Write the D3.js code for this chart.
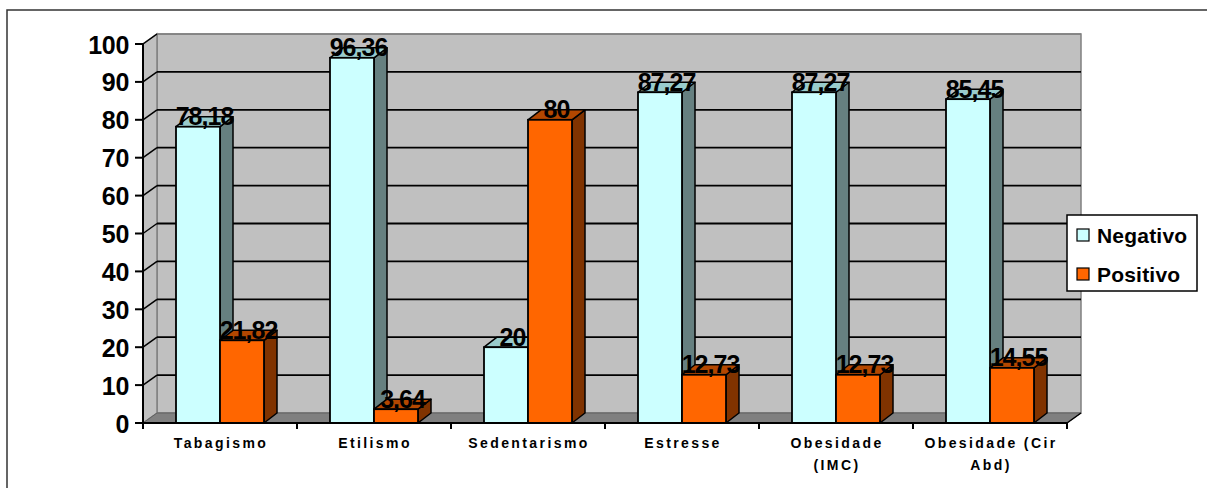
<!DOCTYPE html>
<html>
<head>
<meta charset="utf-8">
<script src="https://cdn.jsdelivr.net/npm/d3@7/dist/d3.min.js"></script>
<style>
  html, body { margin: 0; padding: 0; background: #fff; }
  svg { display: block; }
  text { font-family: Arial, "Liberation Sans", sans-serif; font-weight: bold; fill: #000; }
</style>
</head>
<body>
<svg id="chart" width="1207" height="488"></svg>
<script>
// Categories and their two-line axis labels
const categories = ["Tabagismo", "Etilismo", "Sedentarismo", "Estresse", "Obesidade (IMC)", "Obesidade (Cir Abd)"];
const categoryLines = [["Tabagismo"], ["Etilismo"], ["Sedentarismo"], ["Estresse"], ["Obesidade", "(IMC)"], ["Obesidade (Cir", "Abd)"]];

// Series values (%)
const seriesNames = ["Negativo", "Positivo"];
const negativo = [78.18, 96.36, 20, 87.27, 87.27, 85.45];
const positivo = [21.82, 3.64, 80, 12.73, 12.73, 14.55];

// Value axis ticks
const yTicks = [0, 10, 20, 30, 40, 50, 60, 70, 80, 90, 100];

const colors = {
  Negativo: { front: "#CCFFFF", side: "#668080", top: "#99CCCC" },
  Positivo: { front: "#FF6600", side: "#803300", top: "#B34700" }
};

const svg = d3.select("#chart");

// Outer chart frame
svg.append("rect").attr("x", 7).attr("y", 10).attr("width", 1210).attr("height", 490)
  .attr("fill", "none").attr("stroke", "#333").attr("stroke-width", 1.5);

const plotLeft = 143, plotRight = 1067, plotBottom = 423, plotTop = 44;
const wallDx = 14, wallDy = -10;   // depth of the walls
const barDx = 13, barDy = -10;     // depth of the bars

const x = d3.scaleBand().domain(categories).range([plotLeft, plotRight]).paddingInner(0).paddingOuter(0);
const xs = d3.scaleBand().domain(seriesNames).range([0, x.bandwidth()]).paddingInner(0).paddingOuter(0.75);
const y = d3.scaleLinear().domain([0, 100]).range([plotBottom, plotTop]);

const poly = pts => pts.map(p => p.join(",")).join(" ");

// Back wall
svg.append("polygon")
  .attr("points", poly([[plotLeft + wallDx, y(100) + wallDy], [plotRight + wallDx, y(100) + wallDy], [plotRight + wallDx, y(0) + wallDy], [plotLeft + wallDx, y(0) + wallDy]]))
  .attr("fill", "#C0C0C0").attr("stroke", "#808080").attr("stroke-width", 1.5);

// Side wall
svg.append("polygon")
  .attr("points", poly([[plotLeft, y(0)], [plotLeft + wallDx, y(0) + wallDy], [plotLeft + wallDx, y(100) + wallDy], [plotLeft, y(100)]]))
  .attr("fill", "#C0C0C0").attr("stroke", "#808080").attr("stroke-width", 1.5);

// Floor
svg.append("polygon")
  .attr("points", poly([[plotLeft, y(0)], [plotRight, y(0)], [plotRight + wallDx, y(0) + wallDy], [plotLeft + wallDx, y(0) + wallDy]]))
  .attr("fill", "#808080").attr("stroke", "#606060").attr("stroke-width", 1);

// Gridlines on the back and side walls
const grid = svg.append("g");
yTicks.filter(t => t > 0).forEach(t => {
  grid.append("line")
    .attr("x1", plotLeft + wallDx).attr("x2", plotRight + wallDx)
    .attr("y1", y(t) + wallDy).attr("y2", y(t) + wallDy)
    .attr("stroke", t === 100 ? "#808080" : "#000").attr("stroke-width", t === 100 ? 1.5 : 1.8);
  grid.append("line")
    .attr("x1", plotLeft).attr("x2", plotLeft + wallDx)
    .attr("y1", y(t)).attr("y2", y(t) + wallDy)
    .attr("stroke", "#000").attr("stroke-width", 1.5);
});

// Bars (drawn as front, top and side faces)
const barData = [];
categories.forEach((c, i) => {
  barData.push({ cat: c, s: "Negativo", v: negativo[i] });
  barData.push({ cat: c, s: "Positivo", v: positivo[i] });
});

const bars = svg.append("g").selectAll("g").data(barData).join("g");
bars.each(function (d) {
  const g = d3.select(this);
  const x0 = x(d.cat) + xs(d.s), x1 = x0 + xs.bandwidth();
  const yt = y(d.v), yb = y(0);
  const col = colors[d.s];
  g.append("polygon")
    .attr("points", poly([[x1, yb], [x1 + barDx, yb + barDy], [x1 + barDx, yt + barDy], [x1, yt]]))
    .attr("fill", col.side).attr("stroke", "#000").attr("stroke-width", 1.5).attr("stroke-linejoin", "round");
  g.append("polygon")
    .attr("points", poly([[x0, yt], [x1, yt], [x1 + barDx, yt + barDy], [x0 + barDx, yt + barDy]]))
    .attr("fill", col.top).attr("stroke", "#000").attr("stroke-width", 1.5).attr("stroke-linejoin", "round");
  g.append("rect")
    .attr("x", x0).attr("y", yt).attr("width", x1 - x0).attr("height", yb - yt)
    .attr("fill", col.front).attr("stroke", "#000").attr("stroke-width", 1.8);
});

// Category axis
svg.append("line").attr("x1", plotLeft).attr("x2", plotRight).attr("y1", plotBottom).attr("y2", plotBottom)
  .attr("stroke", "#000").attr("stroke-width", 2);
d3.range(categories.length + 1).forEach(i => {
  const xx = plotLeft + i * x.step();
  svg.append("line").attr("x1", xx).attr("x2", xx).attr("y1", plotBottom).attr("y2", plotBottom + 6)
    .attr("stroke", "#000").attr("stroke-width", 2);
});
// Depth edge at the right end of the floor
svg.append("line").attr("x1", plotRight).attr("x2", plotRight + wallDx).attr("y1", plotBottom).attr("y2", plotBottom + wallDy)
  .attr("stroke", "#000").attr("stroke-width", 1.5);

categories.forEach((c, i) => {
  const cx = x(c) + x.bandwidth() / 2 + 1;
  const t = svg.append("text")
    .attr("x", cx)
    .attr("y", 448)
    .attr("text-anchor", "middle")
    .style("font-size", "14px")
    .style("letter-spacing", "2.4px");
  categoryLines[i].forEach((line, j) => {
    t.append("tspan").attr("x", cx).attr("dy", j === 0 ? 0 : 22).text(line);
  });
});

// Value axis
svg.append("line").attr("x1", plotLeft).attr("x2", plotLeft).attr("y1", y(0)).attr("y2", y(100))
  .attr("stroke", "#000").attr("stroke-width", 2);
yTicks.forEach(t => {
  svg.append("line").attr("x1", plotLeft - 8).attr("x2", plotLeft).attr("y1", y(t)).attr("y2", y(t))
    .attr("stroke", "#000").attr("stroke-width", 2);
  svg.append("text")
    .attr("x", 129).attr("y", y(t) + 9.5)
    .attr("text-anchor", "end")
    .style("font-size", "25px")
    .style("letter-spacing", "-0.3px")
    .text(t);
});

// Data labels
const fmt = v => String(v).replace(".", ",");
svg.append("g").selectAll("text").data(barData).join("text")
  .attr("x", d => x(d.cat) + xs(d.s) + xs.bandwidth() / 2 + barDx / 2)
  .attr("y", d => y(d.v) - 1.5)
  .attr("text-anchor", "middle")
  .style("font-size", "25px")
  .style("letter-spacing", "-1px")
  .text(d => fmt(d.v));

// Legend
const legend = svg.append("g");
legend.append("rect").attr("x", 1067).attr("y", 215).attr("width", 130).attr("height", 76)
  .attr("fill", "#fff").attr("stroke", "#000").attr("stroke-width", 1.5);
seriesNames.forEach((s, i) => {
  const cy = 235 + i * 39;
  legend.append("rect").attr("x", 1077).attr("y", cy - 6).attr("width", 12).attr("height", 12)
    .attr("fill", colors[s].front).attr("stroke", "#000").attr("stroke-width", 1.2);
  legend.append("text").attr("x", 1097).attr("y", cy + 8)
    .style("font-size", "21px").style("letter-spacing", "0.2px").text(s);
});
</script>
</body>
</html>
